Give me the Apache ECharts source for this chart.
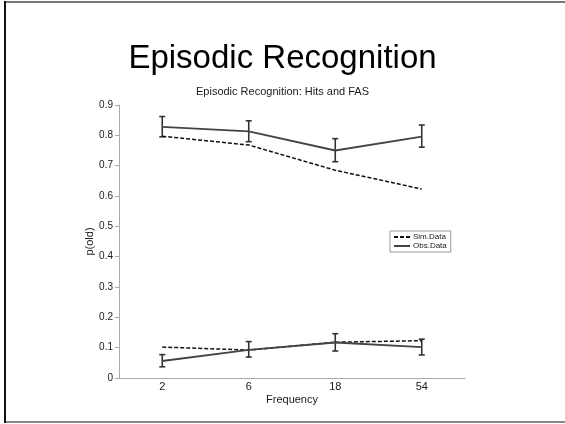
<!DOCTYPE html>
<html>
<head>
<meta charset="utf-8">
<script src="https://cdn.jsdelivr.net/npm/echarts@6/dist/echarts.min.js"></script>
<style>
  html, body { margin: 0; padding: 0; background: #fff; }
  #main { width: 565px; height: 424px; }
</style>
</head>
<body>
<div id="main"></div>
<script>
const frequencies = ['2', '6', '18', '54']

// hits (upper curves)
const simHits = [0.797, 0.768, 0.685, 0.623]
const obsHits = [0.828, 0.813, 0.750, 0.796]
const obsHitsLow = [0.795, 0.779, 0.713, 0.761]
const obsHitsHigh = [0.862, 0.848, 0.789, 0.834]

// false alarms (lower curves)
const simFas = [0.102, 0.092, 0.118, 0.123]
const obsFas = [0.056, 0.093, 0.117, 0.102]
const obsFasLow = [0.037, 0.069, 0.089, 0.076]
const obsFasHigh = [0.077, 0.120, 0.146, 0.128]

const textColor = '#1a1a1a'
const font = 'Liberation Sans, Arial, sans-serif'

const chart = echarts.init(document.getElementById('main'))

function errorData(low, high) {
  return frequencies.map(function (f, i) { return [i, low[i], high[i]] })
}

function renderErrorBar(params, api) {
  const lo = api.coord([api.value(0), api.value(1)])
  const hi = api.coord([api.value(0), api.value(2)])
  const cap = 3
  const style = { stroke: '#333', lineWidth: 1.6 }
  return {
    type: 'group',
    children: [
      { type: 'line', shape: { x1: lo[0], y1: lo[1], x2: hi[0], y2: hi[1] }, style: style },
      { type: 'line', shape: { x1: lo[0] - cap, y1: lo[1], x2: lo[0] + cap, y2: lo[1] }, style: style },
      { type: 'line', shape: { x1: hi[0] - cap, y1: hi[1], x2: hi[0] + cap, y2: hi[1] }, style: style }
    ]
  }
}

const simStyle = { color: '#111', width: 1.5, type: [4, 2] }
const obsStyle = { color: '#444', width: 1.8, type: 'solid' }

const option = {
  animation: false,
  textStyle: { fontFamily: font },
  title: [{
    text: 'Episodic Recognition',
    left: 'center',
    top: 37,
    textStyle: { fontSize: 33, fontWeight: 'normal', color: '#000', fontFamily: font }
  }, {
    text: 'Episodic Recognition: Hits and FAS',
    left: 'center',
    top: 81,
    textStyle: { fontSize: 11, fontWeight: 'normal', color: textColor, fontFamily: font }
  }],
  legend: {
    data: ['Sim.Data', 'Obs.Data'],
    orient: 'vertical',
    left: 390,
    top: 231,
    padding: [2, 4, 2, 3],
    itemGap: 1,
    itemWidth: 16,
    itemHeight: 8,
    itemStyle: { opacity: 0 },
    backgroundColor: '#fff',
    borderColor: '#999',
    borderWidth: 1,
    textStyle: { fontSize: 8, color: textColor, fontFamily: font, padding: [0, 0, 0, -2] }
  },
  grid: { left: 119, right: 100, top: 105, bottom: 46 },
  xAxis: {
    type: 'category',
    data: frequencies,
    boundaryGap: true,
    name: 'Frequency',
    nameLocation: 'middle',
    nameGap: 16,
    nameMoveOverlap: false,
    nameTextStyle: { fontSize: 11, color: textColor },
    axisLine: { lineStyle: { color: '#aaa', width: 1 } },
    axisTick: { alignWithLabel: true, length: 3, lineStyle: { color: '#aaa' } },
    axisLabel: { fontSize: 11, color: textColor, margin: 3 },
    splitLine: { show: false }
  },
  yAxis: {
    type: 'value',
    min: 0,
    max: 0.9,
    interval: 0.1,
    name: 'p(old)',
    nameLocation: 'middle',
    nameGap: 24,
    nameMoveOverlap: false,
    nameRotate: 90,
    nameTextStyle: { fontSize: 11, color: textColor },
    axisLine: { show: true, lineStyle: { color: '#aaa', width: 1 } },
    axisTick: { show: true, length: 4, lineStyle: { color: '#aaa' } },
    axisLabel: {
      fontSize: 10,
      color: textColor,
      margin: 6,
      formatter: function (v) { return v === 0 ? '0' : v.toFixed(1) }
    },
    splitLine: { show: false }
  },
  series: [
    { name: 'Sim.Data', type: 'line', data: simHits, symbol: 'none', lineStyle: simStyle, itemStyle: { color: '#111' } },
    { name: 'Sim.Data', type: 'line', data: simFas, symbol: 'none', lineStyle: simStyle, itemStyle: { color: '#111' } },
    { name: 'Obs.Data', type: 'line', data: obsHits, symbol: 'none', lineStyle: obsStyle, itemStyle: { color: '#444' } },
    { name: 'Obs.Data', type: 'line', data: obsFas, symbol: 'none', lineStyle: obsStyle, itemStyle: { color: '#444' } },
    { type: 'custom', data: errorData(obsHitsLow, obsHitsHigh), renderItem: renderErrorBar, encode: { x: 0, y: [1, 2] }, z: 3 },
    { type: 'custom', data: errorData(obsFasLow, obsFasHigh), renderItem: renderErrorBar, encode: { x: 0, y: [1, 2] }, z: 3 }
  ],
  graphic: [
    // slide frame
    { type: 'line', shape: { x1: 5, y1: 2, x2: 565, y2: 2 }, style: { stroke: '#777', lineWidth: 2 } },
    { type: 'line', shape: { x1: 5, y1: 422, x2: 565, y2: 422 }, style: { stroke: '#888', lineWidth: 2 } },
    { type: 'line', shape: { x1: 5, y1: 1, x2: 5, y2: 423 }, style: { stroke: '#111', lineWidth: 2 } }
  ]
}

chart.setOption(option)
</script>
</body>
</html>
